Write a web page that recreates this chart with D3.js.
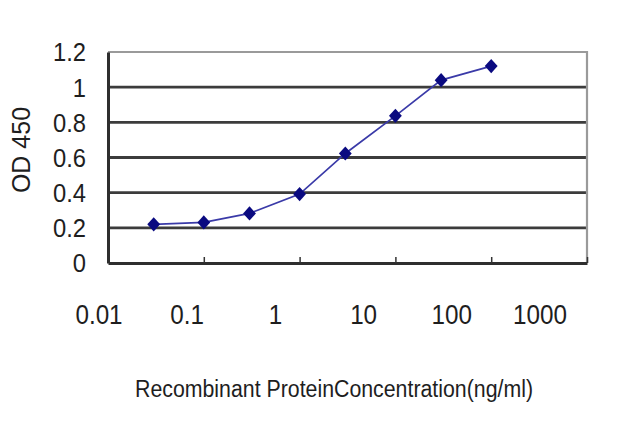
<!DOCTYPE html>
<html>
<head>
<meta charset="utf-8">
<script src="https://cdn.jsdelivr.net/npm/d3@7/dist/d3.min.js"></script>
<style>
  html, body { margin: 0; padding: 0; background: #fff; }
  svg { display: block; }
  text { font-family: "Liberation Sans", Arial, sans-serif; fill: #1e1e1e; }
</style>
</head>
<body>
<svg id="chart" width="640" height="427"></svg>
<script>
// Data
const concentrations = [0.03, 0.1, 0.3, 1, 3, 10, 30, 100];
const odValues = [0.22, 0.231, 0.282, 0.392, 0.623, 0.837, 1.04, 1.12];
const xTickValues = [0.01, 0.1, 1, 10, 100, 1000];
const xTickLabels = ["0.01", "0.1", "1", "10", "100", "1000"];
const yTickValues = [0, 0.2, 0.4, 0.6, 0.8, 1, 1.2];
const yTickLabels = ["0", "0.2", "0.4", "0.6", "0.8", "1", "1.2"];
const xTitle = "Recombinant ProteinConcentration(ng/ml)";
const yTitle = "OD 450";

const svg = d3.select("#chart");
const plot = { left: 108, right: 587, top: 52, bottom: 263 };

const x = d3.scaleLog().domain([0.01, 1000]).range([plot.left, plot.right]);
const y = d3.scaleLinear().domain([0, 1.2]).range([plot.bottom, plot.top]);
// tick labels in the reference are placed slightly compressed relative to the ticks
const xLabelPos = d3.scaleLog().domain([0.01, 1000]).range([99, 540]);

// horizontal gridlines
svg.append("g").selectAll("line")
  .data(yTickValues.filter(v => v > 0 && v < 1.2))
  .join("line")
  .attr("x1", plot.left).attr("x2", plot.right)
  .attr("y1", d => y(d)).attr("y2", d => y(d))
  .attr("stroke", "#3c3c3c").attr("stroke-width", 2.8);

// plot border (top/right gray)
svg.append("path")
  .attr("d", `M${plot.left},${y(1.2)}H${x(1000)}V${y(0)}`)
  .attr("fill", "none").attr("stroke", "#9a9a9a").attr("stroke-width", 2.2);

// x axis with inward ticks
const xAxis = d3.axisBottom(x).tickValues(xTickValues).tickSizeInner(-6).tickSizeOuter(0).tickFormat("");
const gx = svg.append("g").attr("transform", `translate(0,${plot.bottom})`).call(xAxis);
gx.select(".domain").attr("stroke", "#2e2e2e").attr("stroke-width", 3);
gx.selectAll(".tick line").attr("stroke", "#333").attr("stroke-width", 1.5);

// y axis line
const yAxis = d3.axisLeft(y).tickValues(yTickValues).tickSize(0).tickFormat("");
const gy = svg.append("g").attr("transform", `translate(${plot.left},0)`).call(yAxis);
gy.select(".domain").attr("stroke", "#2e2e2e").attr("stroke-width", 3);

// y tick labels
svg.append("g").selectAll("text")
  .data(yTickValues)
  .join("text")
  .attr("transform", d => `translate(86,${y(d)}) scale(0.95,1.05)`)
  .attr("dy", "0.36em")
  .attr("text-anchor", "end")
  .attr("font-size", 25)
  .text((d, i) => yTickLabels[i]);

// x tick labels
svg.append("g").selectAll("text")
  .data(xTickValues)
  .join("text")
  .attr("transform", d => `translate(${xLabelPos(d)},324) scale(0.97,1.1)`)
  .attr("text-anchor", "middle")
  .attr("font-size", 25)
  .text((d, i) => xTickLabels[i]);

// axis titles
svg.append("text")
  .attr("transform", "translate(334,397) scale(1,1.15)")
  .attr("text-anchor", "middle")
  .attr("font-size", 21)
  .attr("textLength", 398)
  .attr("lengthAdjust", "spacingAndGlyphs")
  .text(xTitle);

svg.append("text")
  .attr("transform", "translate(30,150) rotate(-90)")
  .attr("text-anchor", "middle")
  .attr("font-size", 25)
  .text(yTitle);

// series line
const pts = concentrations.map((c, i) => [c, odValues[i]]);
svg.append("path")
  .datum(pts)
  .attr("fill", "none")
  .attr("stroke", "#3a3aa8")
  .attr("stroke-width", 1.7)
  .attr("d", d3.line().x(d => x(d[0])).y(d => y(d[1])));

// diamond markers
svg.append("g").selectAll("path")
  .data(pts)
  .join("path")
  .attr("transform", d => `translate(${x(d[0])},${y(d[1])}) scale(1,1.1)`)
  .attr("d", d3.symbol().type(d3.symbolDiamond2).size(105))
  .attr("fill", "#0a0a80");
</script>
</body>
</html>
